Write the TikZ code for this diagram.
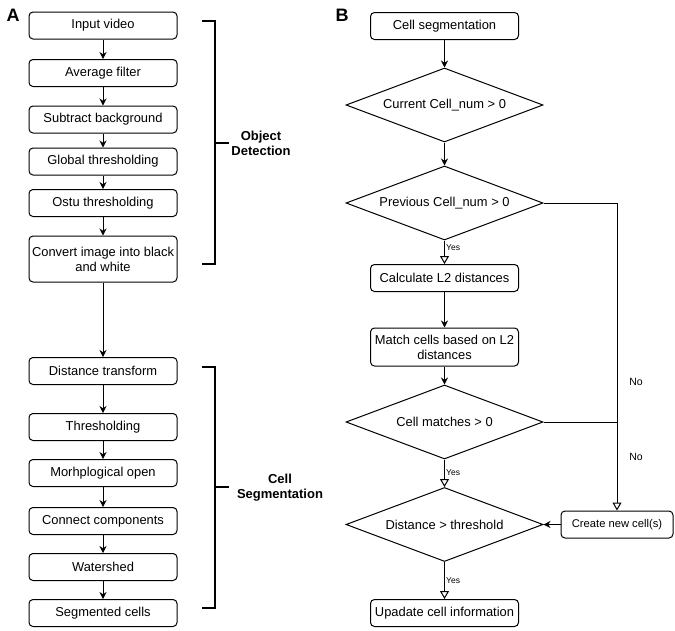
\documentclass[tikz,border=0pt]{standalone}
\usepackage{fontspec}
\setmainfont{Liberation Sans}
\usetikzlibrary{shapes.geometric,arrows.meta}
\begin{document}
\begin{tikzpicture}[x=1pt,y=-1pt,
  every node/.style={font=\fontsize{12.9}{15}\selectfont},
  box/.style={draw,rounded corners=4pt,line width=1pt,minimum width=148pt,minimum height=27pt,inner sep=0pt,align=center},
  dia/.style={draw,diamond,line width=1pt,minimum width=197pt,minimum height=74pt,inner sep=0pt,aspect=2.66,align=center},
  arr/.style={line width=1pt,-{Stealth[length=7pt,width=7pt]}},
  oarr/.style={line width=1pt,-{Triangle[open,length=8pt,width=9pt,fill=white]}},
  ln/.style={line width=1pt},
  brk/.style={line width=2pt},
  lab/.style={font=\bfseries\fontsize{13}{15}\selectfont,align=center},
  yes/.style={font=\fontsize{8.5}{10}\selectfont,anchor=west,inner sep=0pt},
  big/.style={font=\bfseries\fontsize{18}{20}\selectfont}
]
\useasboundingbox (0,0) rectangle (675,630);
% Panel labels
\node[big] (lA) at (13,15) {A};
\node[big] (lB) at (342,15) {B};
% Panel A
\node[box] (a1) at (103,25.5) {Input video};
\node[box] (a2) at (103,73) {Average filter};
\node[box] (a3) at (103,119.5) {Subtract background};
\node[box] (a4) at (103,161.5) {Global thresholding};
\node[box] (a5) at (103,203) {Ostu thresholding};
\node[box,minimum height=46pt] (a6) at (103,259) {Convert image into black\\and white};
\node[box] (a7) at (103,371) {Distance transform};
\node[box] (a8) at (103,427) {Thresholding};
\node[box] (a9) at (103,473) {Morhplogical open};
\node[box] (a10) at (103,521) {Connect components};
\node[box] (a11) at (103,567) {Watershed};
\node[box] (a12) at (103,613) {Segmented cells};
\foreach \i/\j in {a1/a2,a2/a3,a3/a4,a4/a5,a5/a6,a6/a7,a7/a8,a8/a9,a9/a10,a10/a11,a11/a12}
  \draw[arr] (\i) -- (\j);
% Brackets
\coordinate (b1t) at (202,21);
\coordinate (b1b) at (202,264);
\coordinate (b1m) at (215,143);
\coordinate (b1e) at (229,143);
\draw[brk] (b1t) -- (b1t -| b1m) -- (b1b -| b1m) -- (b1b);
\draw[brk] (b1m) -- (b1e);
\node[lab] (od) at (261,143) {Object\\Detection};
\coordinate (b2t) at (202,367);
\coordinate (b2b) at (202,608);
\coordinate (b2m) at (215,487);
\coordinate (b2e) at (229,487);
\draw[brk] (b2t) -- (b2t -| b2m) -- (b2b -| b2m) -- (b2b);
\draw[brk] (b2m) -- (b2e);
\node[lab] (cs) at (280,488) {Cell\\Segmentation};
% Panel B
\node[box] (c1) at (444.5,26) {Cell segmentation};
\node[dia] (d1) at (444.5,105) {Current Cell\_num > 0};
\node[dia] (d2) at (444.5,203) {Previous Cell\_num > 0};
\node[box] (c2) at (444.5,278) {Calculate L2 distances};
\node[box,minimum height=38pt] (c3) at (444.5,347) {Match cells based on L2\\distances};
\node[dia] (d3) at (444.5,422) {Cell matches > 0};
\node[dia] (d4) at (444.5,524.5) {Distance > threshold};
\node[box] (c4) at (444.5,613) {Upadate cell information};
\node[box,minimum width=112pt] (c5) at (617,524.5) {\fontsize{11.2}{13}\selectfont Create new cell(s)};
\draw[arr] (c1) -- (d1);
\draw[arr] (d1) -- (d2);
\draw[oarr] (d2) -- (c2);
\draw[arr] (c2) -- (c3);
\draw[arr] (c3) -- (d3);
\draw[oarr] (d3) -- (d4);
\draw[oarr] (d4) -- (c4);
\draw[arr] (c5) -- (d4.east);
\coordinate (r1) at (617,203);
\coordinate (r2) at (617,422);
\draw[oarr] (d2.east) -- (r1) -- (c5.north);
\draw[ln] (d3.east) -- (r2);
\node[yes] (y1) at (446,248) {Yes};
\node[yes] (y2) at (446,473) {Yes};
\node[yes] (y3) at (446,581) {Yes};
\node[font=\fontsize{10.5}{12}\selectfont] (n1) at (636,382) {No};
\node[font=\fontsize{10.5}{12}\selectfont] (n2) at (636,457) {No};
\end{tikzpicture}
\end{document}
